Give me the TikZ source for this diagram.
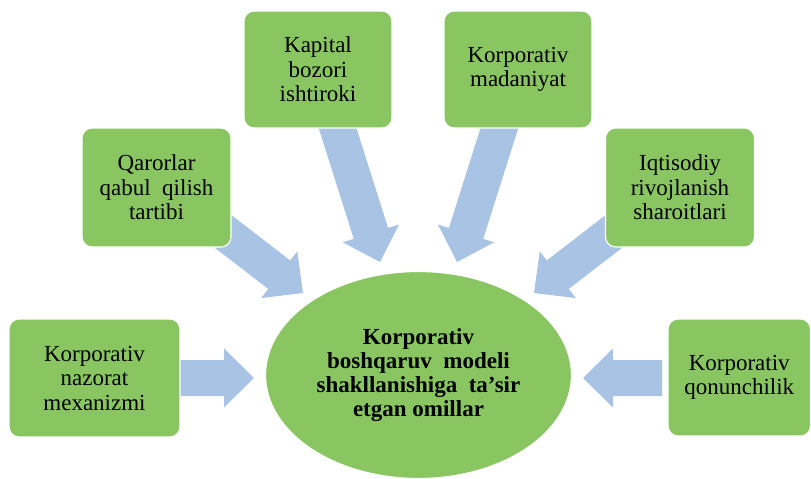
\documentclass[tikz,border=0pt]{standalone}
\usepackage{fontspec}
\setmainfont{Liberation Serif}
\usetikzlibrary{calc,shapes.geometric}
\definecolor{boxgreen}{RGB}{137,198,98}
\definecolor{arrowblue}{RGB}{168,195,227}
% block arrow from tail #1 to tip #2 (named coordinates)
\newcommand{\blockarrow}[2]{%
  \coordinate (#1h) at ($(#2)!30pt!(#1)$);
  \fill[arrowblue]
    ($(#1)!18pt!90:(#2)$) -- ($(#1h)!18pt!-90:(#1)$) --
    ($(#1h)!29.5pt!-90:(#1)$) -- (#2) --
    ($(#1h)!29.5pt!90:(#1)$) -- ($(#1h)!18pt!90:(#1)$) --
    ($(#1)!18pt!-90:(#2)$) -- cycle;}
\tikzset{
  factor/.style={rectangle, rounded corners=10pt, fill=boxgreen, draw=white,
    line width=1.2pt, align=center, inner sep=0pt, text=black,
    font=\fontsize{23}{24.5}\selectfont},
  centre/.style={ellipse, fill=boxgreen, draw=white, line width=1.2pt,
    align=center, inner sep=0pt, text=black,
    font=\fontsize{23}{24}\selectfont\bfseries}
}
\begin{document}
\begin{tikzpicture}[x=1pt,y=-1pt]
\useasboundingbox (0,0) rectangle (811,479);
% arrow end points
\coordinate (tnaz) at (175,378);   \coordinate (pnaz) at (254,378);
\coordinate (tqon) at (662,378);   \coordinate (pqon) at (583,378);
\coordinate (tkap) at (335,120);   \coordinate (pkap) at (380,262);
\coordinate (tmad) at (502,120);   \coordinate (pmad) at (457,262);
\coordinate (tqar) at (200,213.6); \coordinate (pqar) at (303,293);
\coordinate (tiqt) at (637,213.6); \coordinate (piqt) at (534,293);
\blockarrow{tnaz}{pnaz}
\blockarrow{tqon}{pqon}
\blockarrow{tkap}{pkap}
\blockarrow{tmad}{pmad}
\blockarrow{tqar}{pqar}
\blockarrow{tiqt}{piqt}
% boxes
\node[factor, minimum width=148pt, minimum height=117pt] (kap) at (318,69.5)
  {Kapital\\bozori\\ishtiroki};
\node[factor, minimum width=148pt, minimum height=117pt] (mad) at (518,69.5)
  {Korporativ\\madaniyat};
\node[factor, minimum width=149pt, minimum height=119pt] (qar) at (156.5,187.5)
  {Qarorlar\\qabul\ \ qilish\\tartibi};
\node[factor, minimum width=149pt, minimum height=119pt] (iqt) at (680,187.5)
  {Iqtisodiy\\rivojlanish\\sharoitlari};
\node[factor, minimum width=171pt, minimum height=118pt] (naz) at (94.5,378)
  {Korporativ\\nazorat\\mexanizmi};
\node[factor, minimum width=142.5pt, minimum height=117pt] (qon) at (739.25,377.5)
  {Korporativ\\qonunchilik};
% centre
\node[centre, minimum width=306pt, minimum height=207pt] (c) at (418.5,375)
  {Korporativ\\boshqaruv\ \ modeli\\shakllanishiga\ \ ta’sir\\etgan omillar};
\end{tikzpicture}
\end{document}
